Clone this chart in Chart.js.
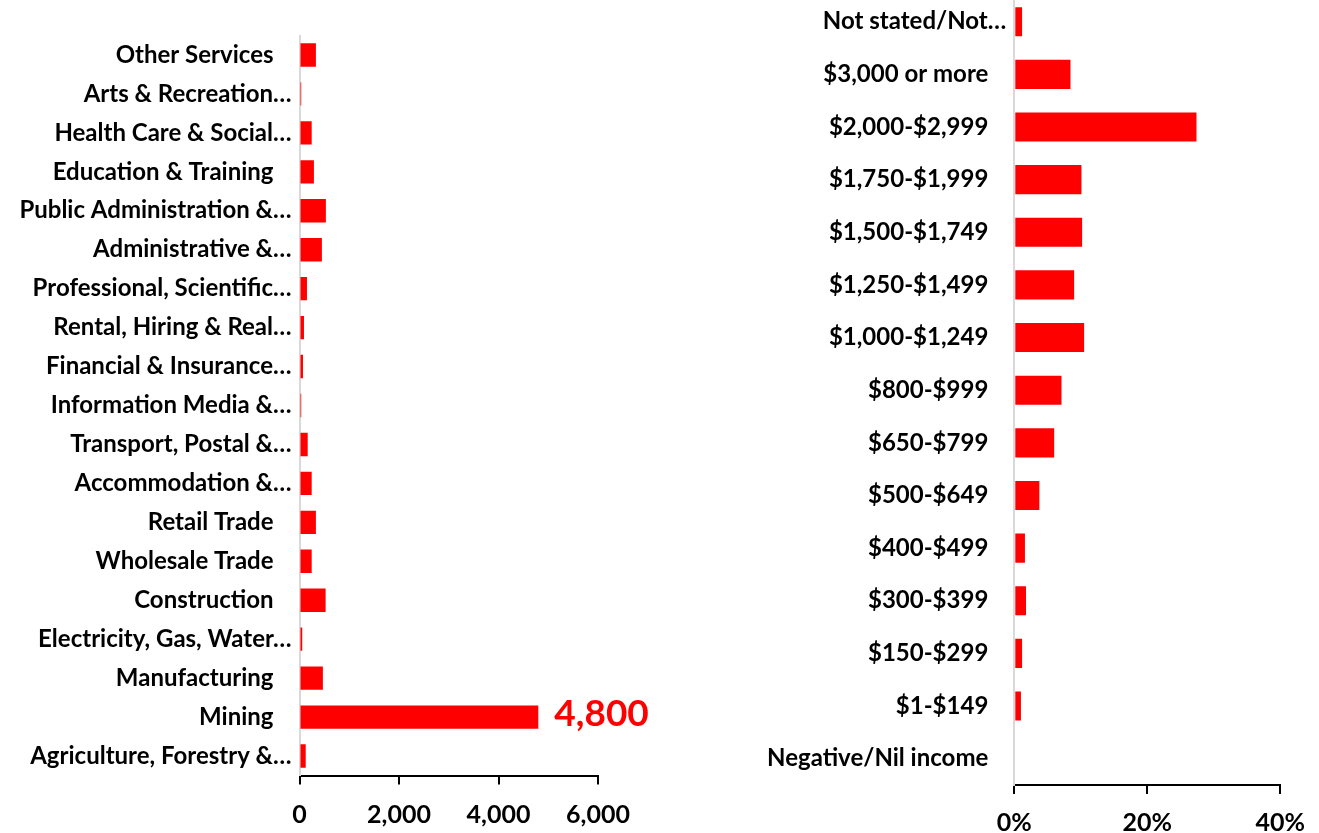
<!DOCTYPE html>
<html lang="en">
<head>
  <meta charset="UTF-8">
  <title>Industry and income</title>
  <script src="https://cdn.jsdelivr.net/npm/chart.js"></script>
  <style>
    html, body { margin: 0; padding: 0; background: #fff; overflow: hidden; }
    body { width: 1319px; height: 833px; position: relative; font-family: Lato, Arial, sans-serif; }
    #leftBox { position: absolute; left: 0; top: 0; width: 660px; height: 833px; }
    #rightBox { position: absolute; left: 660px; top: -19px; width: 659px; height: 854px; }
  </style>
</head>
<body>
  <div id="leftBox"><canvas id="industryChart"></canvas></div>
  <div id="rightBox"><canvas id="incomeChart"></canvas></div>

  <script>
    // Branscher (uppifrån och ned som i bilden)
    const industries = [
      "Other Services", "Arts & Recreation…", "Health Care & Social…", "Education & Training",
      "Public Administration &…", "Administrative &…", "Professional, Scientific…",
      "Rental, Hiring & Real…", "Financial & Insurance…", "Information Media &…",
      "Transport, Postal &…", "Accommodation &…", "Retail Trade", "Wholesale Trade",
      "Construction", "Electricity, Gas, Water…", "Manufacturing", "Mining",
      "Agriculture, Forestry &…"
    ];
    const industryValues = [330, 35, 245, 290, 530, 450, 150, 90, 70, 35, 165, 245, 330, 245, 525, 55, 470, 4800, 125];
    const industryTicks = [0, 2000, 4000, 6000];
    const highlightLabel = "Mining";

    // Inkomstklasser
    const incomeBands = [
      "Not stated/Not…", "$3,000 or more", "$2,000-$2,999", "$1,750-$1,999", "$1,500-$1,749",
      "$1,250-$1,499", "$1,000-$1,249", "$800-$999", "$650-$799", "$500-$649",
      "$400-$499", "$300-$399", "$150-$299", "$1-$149", "Negative/Nil income"
    ];
    const incomeShares = [1.17, 8.45, 27.4, 10.1, 10.2, 9.0, 10.5, 7.1, 6.0, 3.77, 1.6, 1.76, 1.17, 1.0, 0];
    const incomeTicks = [0, 20, 40];

    const RED = "#ff0000";
    const FONT = "Lato, Arial, sans-serif";

    // Fullständiga etiketter står längre från axeln än avkortade
    const padLabel = s => s.endsWith("…") ? s : s + "\u2003";

    // Värdeetikett för Mining
    const valueLabel = {
      id: "valueLabel",
      afterDatasetsDraw(chart) {
        const idx = industries.indexOf(highlightLabel);
        const bar = chart.getDatasetMeta(0).data[idx];
        const ctx = chart.ctx;
        ctx.save();
        ctx.fillStyle = RED;
        ctx.font = "bold 37px " + FONT;
        ctx.textAlign = "left";
        ctx.textBaseline = "middle";
        ctx.fillText(industryValues[idx].toLocaleString("en-US"), bar.x + 16, bar.y - 3);
        ctx.restore();
      }
    };

    function barChart(id, labels, values, opts) {
      return new Chart(document.getElementById(id), {
        type: "bar",
        data: {
          labels: labels,
          datasets: [{
            data: values,
            backgroundColor: RED,
            borderWidth: 0,
            barPercentage: opts.barPct,
            categoryPercentage: 1
          }]
        },
        options: {
          indexAxis: "y",
          responsive: true,
          maintainAspectRatio: false,
          animation: false,
          layout: { padding: { top: opts.padTop, right: opts.padRight, left: 0, bottom: 0 } },
          plugins: { legend: { display: false }, tooltip: { enabled: false } },
          scales: {
            x: {
              min: 0,
              max: opts.max,
              afterBuildTicks: s => { s.ticks = opts.ticks.map(v => ({ value: v })); },
              afterFit: s => { s.height = opts.xHeight; },
              grid: { display: true, drawOnChartArea: false, drawTicks: true, tickLength: 9, color: "#000", lineWidth: 2 },
              border: { display: true, color: "#000", width: 2 },
              ticks: {
                color: "#000",
                padding: opts.tickPad,
                maxRotation: 0,
                font: { family: FONT, size: 25, weight: "bold" },
                callback: opts.fmt
              }
            },
            y: {
              afterFit: s => { s.width = opts.yWidth; },
              grid: { display: false },
              border: { display: true, color: "#d9d9d9", width: 2 },
              ticks: {
                color: "#000",
                padding: 0,
                autoSkip: false,
                font: { family: FONT, size: 24, weight: "bold" },
                callback: function (v) { return padLabel(this.getLabelForValue(v)); }
              }
            }
          }
        },
        plugins: opts.plugins || []
      });
    }

    barChart("industryChart", industries, industryValues, {
      barPct: 0.6, max: 6000, ticks: industryTicks, padTop: 35.5, padRight: 62,
      xHeight: 57.5, yWidth: 299.5, tickPad: 15,
      fmt: v => v.toLocaleString("en-US"),
      plugins: [valueLabel]
    });

    barChart("incomeChart", incomeBands, incomeShares, {
      barPct: 0.553, max: 40, ticks: incomeTicks, padTop: 0, padRight: 17,
      xHeight: 50, yWidth: 354.3, tickPad: 14,
      fmt: v => v + "%"
    });
  </script>
</body>
</html>
